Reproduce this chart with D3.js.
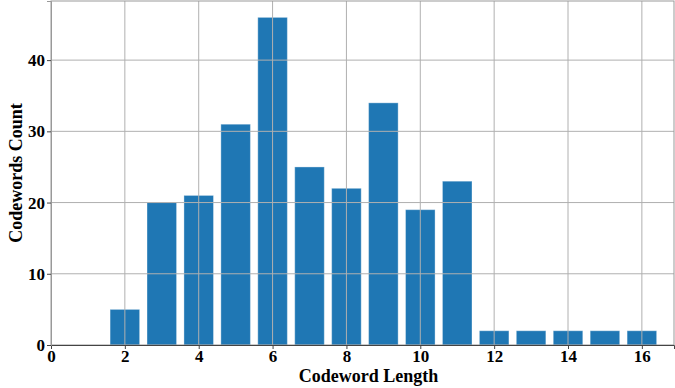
<!DOCTYPE html>
<html>
<head>
<meta charset="utf-8">
<script src="https://cdn.jsdelivr.net/npm/d3@7"></script>
<style>
  body { margin: 0; background: #fff; }
  .tick text { font-family: "Liberation Serif", "Times New Roman", serif; font-weight: bold; font-size: 17px; fill: #000; }
  .lbl { font-family: "Liberation Serif", "Times New Roman", serif; font-weight: bold; font-size: 18px; fill: #000; }
</style>
</head>
<body>
<div id="chart"></div>
<script>
// codeword lengths and how many codewords have each length
var lengths = [2, 3, 4, 5, 6, 7, 8, 9, 10, 11, 12, 13, 14, 15, 16];
var counts = [5, 20, 21, 31, 46, 25, 22, 34, 19, 23, 2, 2, 2, 2, 2];
var xTicks = [0, 2, 4, 6, 8, 10, 12, 14, 16];
var yTicks = [0, 10, 20, 30, 40];

var svg_width = 675, svg_height = 388;
var margin = {top: 1, right: 1, bottom: 43, left: 51};
var width = svg_width - margin.left - margin.right;
var height = svg_height - margin.top - margin.bottom;

var svg = d3.select("#chart").append("svg")
    .attr("width", svg_width)
    .attr("height", svg_height);

var g = svg.append("g")
    .attr("transform", "translate(" + margin.left + "," + margin.top + ")");

var x = d3.scaleLinear().domain([0, 16.87]).range([0, width]);
var y = d3.scaleLinear().domain([0, 48.3]).range([height, 0]);

// bars
g.selectAll(".bar")
    .data(lengths)
    .enter().append("rect")
    .attr("class", "bar")
    .attr("x", function(d) { return x(d - 0.4); })
    .attr("y", function(d, i) { return y(counts[i]); })
    .attr("width", x(0.8) - x(0))
    .attr("height", function(d, i) { return height - y(counts[i]); })
    .attr("fill", "#1f77b4")
    .attr("stroke", "rgba(255,255,255,0.35)")
    .attr("stroke-width", 1);

// grid on top of bars
g.selectAll(".vgrid")
    .data(xTicks.slice(1))
    .enter().append("line")
    .attr("x1", function(d) { return x(d); })
    .attr("x2", function(d) { return x(d); })
    .attr("y1", 0).attr("y2", height)
    .attr("stroke", "#b0b0b0").attr("stroke-width", 1);

g.selectAll(".hgrid")
    .data(yTicks.slice(1))
    .enter().append("line")
    .attr("x1", 0).attr("x2", width)
    .attr("y1", function(d) { return y(d); })
    .attr("y2", function(d) { return y(d); })
    .attr("stroke", "#b0b0b0").attr("stroke-width", 1);

// frame
g.append("rect")
    .attr("x", 0).attr("y", 0)
    .attr("width", width).attr("height", height)
    .attr("fill", "none")
    .attr("stroke", "#999").attr("stroke-width", 1);

var xAxis = g.append("g")
    .attr("transform", "translate(0," + height + ")")
    .call(d3.axisBottom(x).tickValues(xTicks).tickSize(4).tickPadding(1));
var yAxis = g.append("g")
    .call(d3.axisLeft(y).tickValues(yTicks).tickSize(4).tickPadding(2));

xAxis.select(".domain").attr("stroke", "#444");
yAxis.select(".domain").attr("stroke", "#999");
xAxis.selectAll(".tick line").attr("stroke", "#444");
yAxis.selectAll(".tick line").attr("stroke", "#444");

svg.append("text")
    .attr("class", "lbl")
    .attr("x", margin.left + x(8.6))
    .attr("y", 382)
    .attr("text-anchor", "middle")
    .text("Codeword Length");

svg.append("text")
    .attr("class", "lbl")
    .attr("transform", "translate(22," + (margin.top + height / 2) + ") rotate(-90)")
    .attr("text-anchor", "middle")
    .text("Codewords Count");
</script>
</body>
</html>
